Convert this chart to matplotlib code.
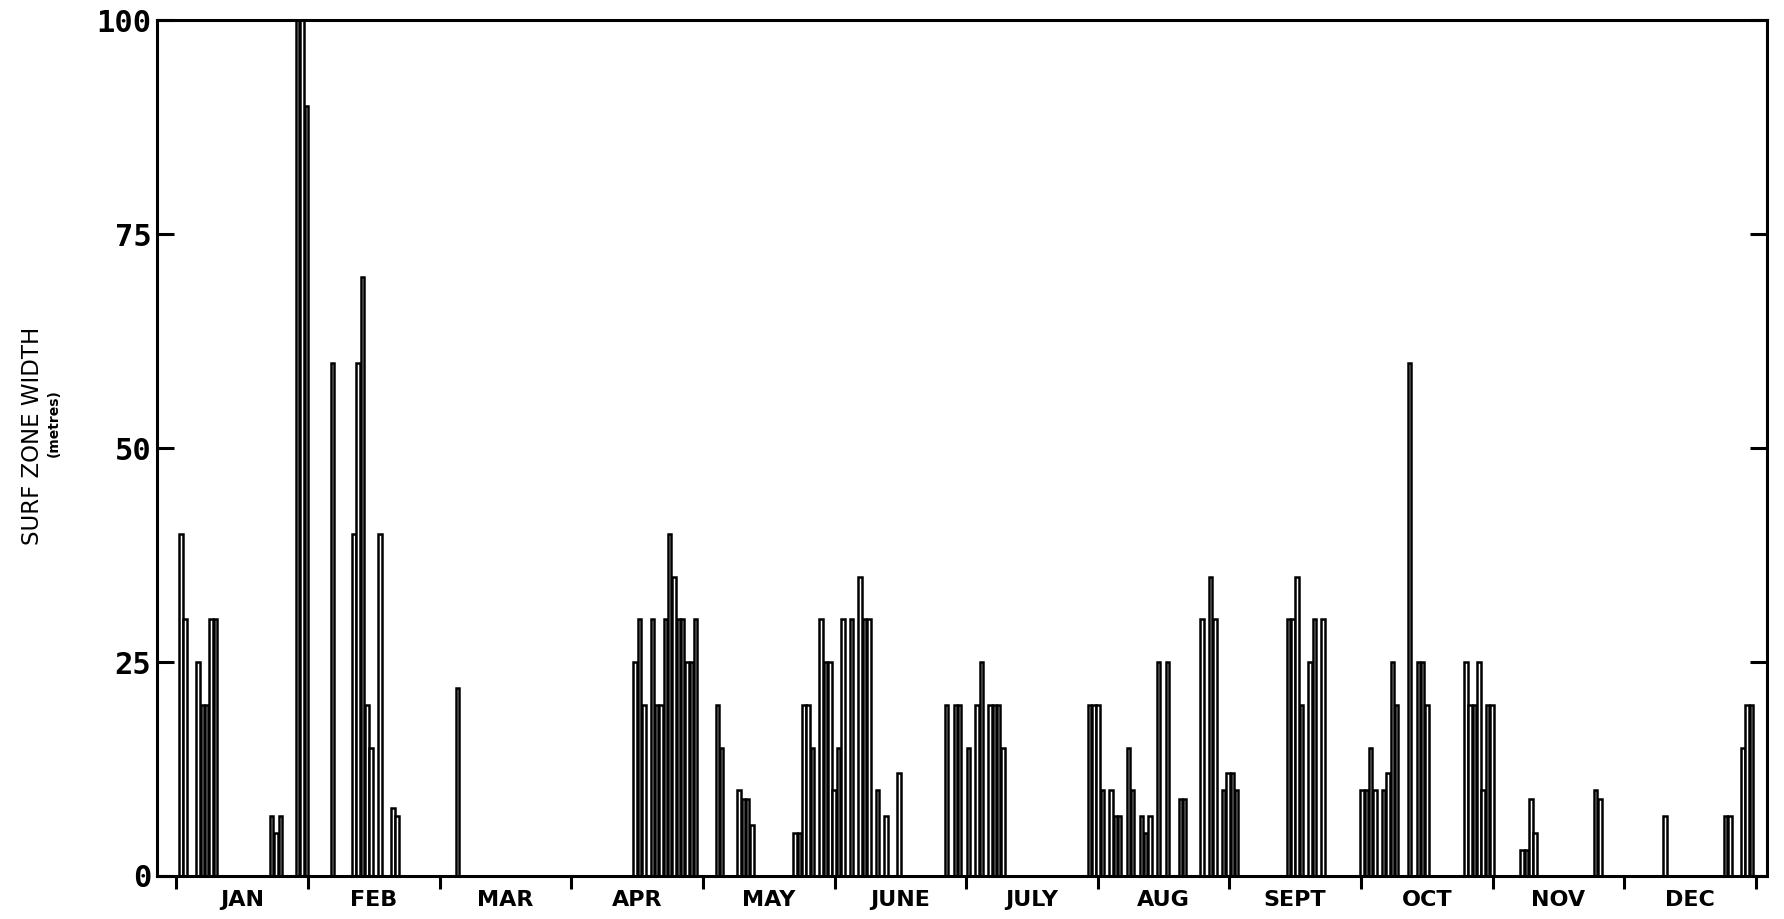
import numpy as np
import matplotlib
matplotlib.use("Agg")
import matplotlib.pyplot as plt

# day of year (0 = start of Jan) and surf zone width (m) for days with surf
obs_day = [1, 2, 5, 6, 7, 8, 9, 22, 23, 24, 28, 29, 30,
           36, 41, 42, 43, 44, 45, 47, 50, 51,
           65,
           106, 107, 108, 110, 111, 112, 113, 114, 115, 116, 117, 118, 119, 120,
           125, 126, 130, 131, 132, 133, 143, 144, 145, 146, 147, 149, 150, 151,
           152, 153, 154, 156, 158, 159, 160, 162, 164, 167, 178, 180, 181,
           183, 185, 186, 188, 189, 190, 191, 211, 212,
           213, 214, 216, 217, 218, 220, 221, 223, 224, 225, 227, 229, 232, 233,
           237, 239, 240, 242, 243,
           244, 245, 257, 258, 259, 260, 262, 263, 265,
           274, 275, 276, 277, 279, 280, 281, 282, 285, 287, 288, 289,
           298, 299, 300, 301, 302, 303,
           304, 311, 312, 313, 314, 328, 329,
           344, 358, 359, 362, 363, 364]
surf_width = [40, 30, 25, 20, 20, 30, 30, 7, 5, 7, 100, 100, 90,
              60, 40, 60, 70, 20, 15, 40, 8, 7,
              22,
              25, 30, 20, 30, 20, 20, 30, 40, 35, 30, 30, 25, 25, 30,
              20, 15, 10, 9, 9, 6, 5, 5, 20, 20, 15, 30, 25, 25,
              10, 15, 30, 30, 35, 30, 30, 10, 7, 12, 20, 20, 20,
              15, 20, 25, 20, 20, 20, 15, 20, 20,
              20, 10, 10, 7, 7, 15, 10, 7, 5, 7, 25, 25, 9, 9,
              30, 35, 30, 10, 12,
              12, 10, 30, 30, 35, 20, 25, 30, 30,
              10, 10, 15, 10, 10, 12, 25, 20, 60, 25, 25, 20,
              25, 20, 20, 25, 10, 20,
              20, 3, 3, 9, 5, 10, 9,
              7, 7, 7, 15, 20, 20]

months = ["JAN", "FEB", "MAR", "APR", "MAY", "JUNE",
          "JULY", "AUG", "SEPT", "OCT", "NOV", "DEC"]
y_ticks = [0, 25, 50, 75, 100]

fig = plt.figure(figsize=(17.84, 9.19), dpi=100)
ax = fig.add_axes([0.088, 0.0468, 0.9025, 0.931])

ax.bar(obs_day, surf_width, width=0.8, color="white", edgecolor="black",
       linewidth=1.8, zorder=2)

month_len = 365 / 12
edges = np.arange(13) * month_len
ax.set_xlim(-4.5, 367.6)
ax.set_ylim(0, 100)

ax.set_xticks(edges)
ax.set_xticklabels([])
ax.set_xticks(edges[:-1] + month_len / 2, minor=True)
ax.set_xticklabels(months, minor=True, fontsize=16, fontweight="bold",
                   family="DejaVu Sans")
ax.tick_params(axis="x", which="major", direction="out", length=9, width=2.2)
ax.tick_params(axis="x", which="minor", length=0, pad=10)

ax.set_yticks(y_ticks)
ax.set_yticklabels([str(v) for v in y_ticks], fontsize=22, fontweight="bold",
                   family="DejaVu Sans Mono")
ax.tick_params(axis="y", direction="in", length=12, width=2.2, pad=4,
               right=True, left=True)

for s in ax.spines.values():
    s.set_linewidth(2.2)

fig.text(0.018, 0.526, "SURF ZONE WIDTH", rotation=90, ha="center",
         va="center", fontsize=16.5, family="DejaVu Sans")
fig.text(0.030, 0.540, "(metres)", rotation=90, ha="center", va="center",
         fontsize=10, fontweight="bold", family="DejaVu Sans")

fig.savefig("out.png", dpi=100, facecolor="white")
